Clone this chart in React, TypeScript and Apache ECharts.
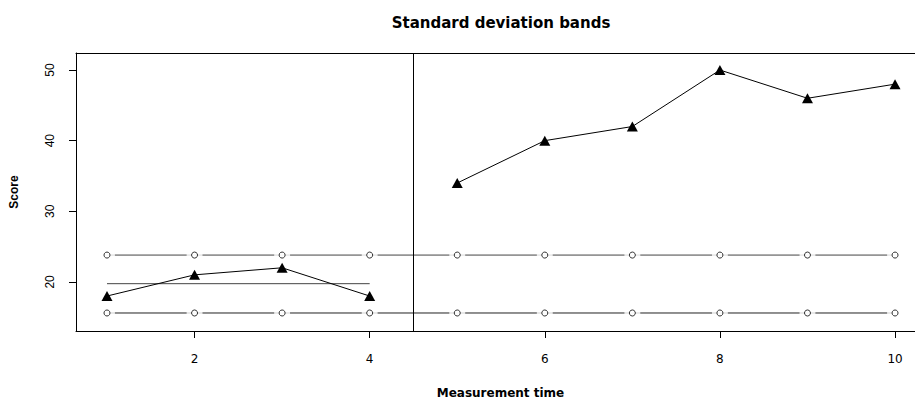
import React, { useEffect, useRef } from "react";
import * as echarts from "echarts";

const times = [1, 2, 3, 4, 5, 6, 7, 8, 9, 10];
const scores = [18, 21, 22, 18, 34, 40, 42, 50, 46, 48];
const baselineCount = 4;
const baselineMean = 19.75;
const upperBand = [23.8, 23.8, 23.8, 23.8, 23.8, 23.8, 23.8, 23.8, 23.8, 23.8];
const lowerBand = [15.6, 15.6, 15.6, 15.6, 15.6, 15.6, 15.6, 15.6, 15.6, 15.6];
const phaseChange = 4.5;
const xTicks = [2, 4, 6, 8, 10];
const yTicks = [20, 30, 40, 50];

const FONT_H = "'DejaVu Sans', Verdana, sans-serif";
const FONT_V = "'Liberation Sans', Arial, Helvetica, sans-serif";

export default function App() {
  const ref = useRef<HTMLDivElement>(null);
  useEffect(() => {
    document.body.style.margin = "0";
    const chart = echarts.init(ref.current!, null, { renderer: "svg" });
    const upper = times.map((t, i) => [t, upperBand[i]]);
    const lower = times.map((t, i) => [t, lowerBand[i]]);
    const baseline = times.slice(0, baselineCount).map((t, i) => [t, scores[i]]);
    const treatment = times.slice(baselineCount).map((t, i) => [t, scores[i + baselineCount]]);
    const meanLine = [
      [times[0], baselineMean],
      [times[baselineCount - 1], baselineMean],
    ];
    chart.setOption({
      animation: false,
      backgroundColor: "#fff",
      title: {
        text: "Standard deviation bands",
        left: 496,
        top: 10,
        textAlign: "center",
        textStyle: { fontFamily: FONT_H, fontSize: 15, fontWeight: "bold", color: "#000" },
      },
      grid: {
        left: 76,
        top: 53,
        right: 0,
        height: 278,
        show: false,
        outerBoundsMode: "none",
        containLabel: false,
      },
      graphic: {
        elements: [
          {
            type: "rect",
            z: 100,
            silent: true,
            left: 902,
            top: 55,
            shape: { width: 13, height: 274 },
            style: { fill: "#fff" },
          },
        ],
      },
      xAxis: [
        {
          type: "value",
          position: "bottom",
          min: 0.646,
          max: 10.228,
          name: "Measurement time",
          nameLocation: "middle",
          nameGap: 56,
          nameTextStyle: { fontFamily: FONT_H, fontSize: 12, fontWeight: "bold", color: "#000", padding: [0, 0, 0, 10] },
          axisLine: { show: true, onZero: false, lineStyle: { color: "#000", width: 1 } },
          splitLine: { show: false },
          axisTick: {
            show: true,
            length: 7,
            customValues: xTicks,
            lineStyle: { color: "#000", width: 1 },
          },
          axisLabel: {
            customValues: xTicks,
            margin: 22,
            fontFamily: FONT_H,
            fontSize: 12,
            color: "#000",
          },
        },
        {
          type: "value",
          position: "top",
          min: 0.646,
          max: 10.228,
          axisLine: { show: true, onZero: false, lineStyle: { color: "#000", width: 1 } },
          axisTick: { show: false },
          axisLabel: { show: false },
          splitLine: { show: false },
        },
      ],
      yAxis: {
        type: "value",
        min: 13.05,
        max: 52.41,
        name: "Score",
        nameLocation: "middle",
        nameGap: 56,
        nameRotate: 90,
        nameTextStyle: { fontFamily: FONT_V, fontSize: 12, fontWeight: "bold", color: "#000" },
        axisLine: { show: true, onZero: false, lineStyle: { color: "#000", width: 1 } },
        splitLine: { show: false },
        axisTick: {
          show: true,
          length: 7,
          customValues: yTicks,
          lineStyle: { color: "#000", width: 1 },
        },
        axisLabel: {
          customValues: yTicks,
          rotate: 90,
          margin: 20,
          fontFamily: FONT_V,
          fontSize: 12,
          color: "#000",
        },
      },
      series: [
        {
          type: "line",
          data: upper,
          symbol: "none",
          lineStyle: { color: "#444", width: 1 },
          z: 1,
          silent: true,
          markLine: {
            silent: true,
            symbol: "none",
            label: { show: false },
            lineStyle: { color: "#000", width: 1, type: "solid" },
            data: [{ xAxis: phaseChange }],
          },
        },
        {
          type: "line",
          data: lower,
          symbol: "none",
          lineStyle: { color: "#222", width: 1 },
          z: 1,
          silent: true,
        },
        {
          type: "scatter",
          data: [...upper, ...lower],
          symbol: "circle",
          symbolSize: 16,
          itemStyle: { color: "#fff", borderWidth: 0 },
          z: 2,
          silent: true,
        },
        {
          type: "scatter",
          data: [...upper, ...lower],
          symbol: "circle",
          symbolSize: 6,
          itemStyle: { color: "#fff", borderColor: "#000", borderWidth: 1 },
          z: 3,
          silent: true,
        },
        {
          type: "line",
          data: meanLine,
          symbol: "none",
          lineStyle: { color: "#444", width: 1 },
          z: 3,
          silent: true,
        },
        {
          type: "line",
          data: baseline,
          symbol: "triangle",
          symbolSize: [11, 10],
          showAllSymbol: true,
          itemStyle: { color: "#000" },
          lineStyle: { color: "#000", width: 1 },
          z: 4,
          silent: true,
        },
        {
          type: "line",
          data: treatment,
          symbol: "triangle",
          symbolSize: [11, 10],
          showAllSymbol: true,
          itemStyle: { color: "#000" },
          lineStyle: { color: "#000", width: 1 },
          z: 4,
          silent: true,
        },
      ],
    });
    return () => chart.dispose();
  }, []);
  return (
    <div
      ref={ref}
      style={{ position: "absolute", left: 0, top: 0, width: 915, height: 399 }}
    />
  );
}
